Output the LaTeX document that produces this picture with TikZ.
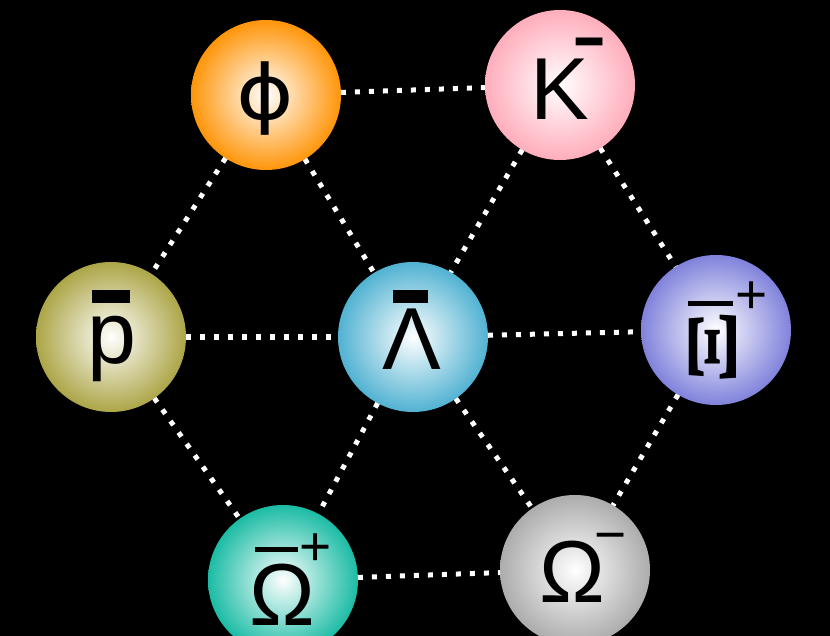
\documentclass[tikz,border=0pt]{standalone}
\usepackage{fontspec}
\setmainfont{Liberation Sans}
\newfontfamily\dejafont{DejaVu Sans}
\newfontfamily\seriffont{Liberation Serif}
\usetikzlibrary{backgrounds}
\definecolor{cPhi}{HTML}{FF9100}
\definecolor{cK}{HTML}{FFAAB9}
\definecolor{cP}{HTML}{A9A240}
\definecolor{cL}{HTML}{4AAFD0}
\definecolor{cX}{HTML}{7B7DDA}
\definecolor{cOp}{HTML}{12B9A1}
\definecolor{cOm}{HTML}{A9A9A9}
\colorlet{ballc}{cPhi}
\pgfdeclareradialshading[ballc]{ballshade}{\pgfpoint{0bp}{0bp}}{color(0bp)=(white); color(3bp)=(white!88!ballc); color(26bp)=(ballc); color(50bp)=(ballc)}
\tikzset{
  ball/.style={circle, minimum size=150pt, inner sep=0pt, outer sep=0pt,
    /utils/exec={\colorlet{ballc}{#1}}, shading=ballshade},
  link/.style={draw=white, line width=5pt, dash pattern=on 5pt off 9pt},
  sym/.style={font=\fontsize{88}{88}\selectfont, text=black, inner sep=0pt, anchor=base},
  signtxt/.style={font=\fontsize{55}{55}\selectfont, text=black, inner sep=0pt},
  barfill/.style={fill=black, draw=none}
}
\begin{document}
\begin{tikzpicture}[x=1pt,y=-1pt]
\useasboundingbox (0,0) rectangle (830,636);
\fill[black] (0,0) rectangle (830,636);
\clip (0,0) rectangle (830,636);
% balls
\node[ball=cPhi] (phi) at (266,95) {};
\node[ball=cK] (kmin) at (560,85) {};
\node[ball=cP] (pbar) at (111,337) {};
\node[ball=cL] (lbar) at (413,337) {};
\node[ball=cX] (xbar) at (716,330) {};
\node[ball=cOp] (obar) at (283,580) {};
\node[ball=cOm] (omin) at (575,570) {};
% links
\draw[link] (phi) -- (kmin);
\draw[link] (phi) -- (pbar);
\draw[link] (phi) -- (lbar);
\draw[link] (kmin) -- (lbar);
\draw[link] (kmin) -- (xbar);
\draw[link] (pbar) -- (lbar);
\draw[link] (lbar) -- (xbar);
\draw[link] (pbar) -- (obar);
\draw[link] (lbar) -- (obar);
\draw[link] (lbar) -- (omin);
\draw[link] (xbar) -- (omin);
\draw[link] (obar) -- (omin);
% symbols
\node[sym, font=\fontsize{76}{76}\selectfont\dejafont] (tphi) at (265,120) {\scalebox{1.15}[1]{ϕ}};
\node[sym] (tk) at (560,120) {K};
\node[signtxt] (tkm) at (590,58) {\scalebox{1}[2]{−}};
\node[sym] (tp) at (112,363) {p};
\fill[barfill] (92,290) rectangle (130,303);
\node[sym] (tl) at (412,370) {Λ};
\fill[barfill] (393,290) rectangle (428,303);
\node[sym, anchor=center, rotate=90, font=\fontsize{76}{76}\selectfont\seriffont\bfseries] (tx) at (713,347) {\scalebox{1.45}[0.95]{Ξ}};
\fill[barfill] (688,301) rectangle (733,306);
\node[signtxt] (txp) at (752,298) {+};
\node[sym] (to) at (282,625) {Ω};
\fill[barfill] (255,547) rectangle (298,552);
\node[signtxt] (top) at (316,550) {+};
\node[sym] (tom) at (572,602) {Ω};
\node[signtxt] (tomm) at (611,543) {−};
\end{tikzpicture}
\end{document}
